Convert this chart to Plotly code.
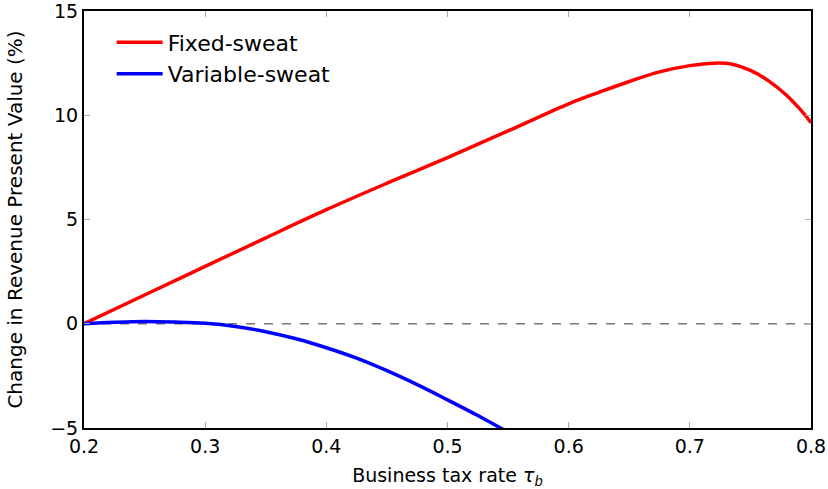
import plotly.graph_objects as go

tau = [0.2, 0.25, 0.3, 0.35, 0.4, 0.45, 0.5, 0.55, 0.6, 0.625, 0.65, 0.675, 0.7, 0.72, 0.735, 0.75, 0.765, 0.78, 0.79, 0.8]
fixed = [0.0, 1.38, 2.75, 4.12, 5.47, 6.74, 7.97, 9.25, 10.55, 11.1, 11.62, 12.08, 12.38, 12.5, 12.45, 12.15, 11.65, 10.95, 10.35, 9.65]

tau_v = [0.2, 0.225, 0.25, 0.275, 0.3, 0.325, 0.35, 0.375, 0.4, 0.425, 0.45, 0.475, 0.5, 0.525, 0.55]
variable = [0.0, 0.07, 0.11, 0.08, 0.02, -0.13, -0.38, -0.72, -1.15, -1.65, -2.25, -2.92, -3.65, -4.4, -5.2]

x_ticks = [0.2, 0.3, 0.4, 0.5, 0.6, 0.7, 0.8]
y_ticks = [-5, 0, 5, 10, 15]
y_tick_text = ["\u22125", "0", "5", "10", "15"]

font_family = "DejaVu Sans"

fig = go.Figure()
fig.add_trace(go.Scatter(x=[0.2, 0.8], y=[0, 0], mode="lines",
                         line=dict(color="#777777", width=1.3, dash="dash"),
                         showlegend=False, hoverinfo="skip"))
fig.add_trace(go.Scatter(x=tau, y=fixed, mode="lines", name="Fixed-sweat",
                         line=dict(color="#ff0000", width=3.5, shape="spline", smoothing=1.0)))
fig.add_trace(go.Scatter(x=tau_v, y=variable, mode="lines", name="Variable-sweat",
                         line=dict(color="#0000ff", width=3.5, shape="spline", smoothing=1.0)))

axis_common = dict(showline=True, linecolor="black", linewidth=2, mirror="allticks",
                   ticks="inside", ticklen=6, tickcolor="#aaaaaa", tickwidth=1.3,
                   showgrid=False, zeroline=False, automargin=False,
                   ticklabeloverflow="allow",
                   tickfont=dict(family=font_family, size=19, color="black"))

fig.update_layout(
    width=828, height=489,
    margin=dict(l=84, r=17, t=11, b=61),
    plot_bgcolor="white", paper_bgcolor="white",
    font=dict(family=font_family, color="black"),
    xaxis=dict(range=[0.2, 0.8], tickvals=x_ticks, ticktext=[str(v) for v in x_ticks],
               title=dict(text="Business tax rate <i>τ<sub>b</sub></i>", font=dict(size=19), standoff=17),
               **axis_common),
    yaxis=dict(range=[-5, 15], tickvals=y_ticks, ticktext=y_tick_text,
               title=dict(text="Change in Revenue Present Value (%)", font=dict(size=20), standoff=22),
               **axis_common),
    legend=dict(x=0.038, y=0.975, xanchor="left", yanchor="top", bgcolor="rgba(0,0,0,0)",
                font=dict(size=22), itemwidth=46, tracegroupgap=0),
)

fig.write_html("out.html")
